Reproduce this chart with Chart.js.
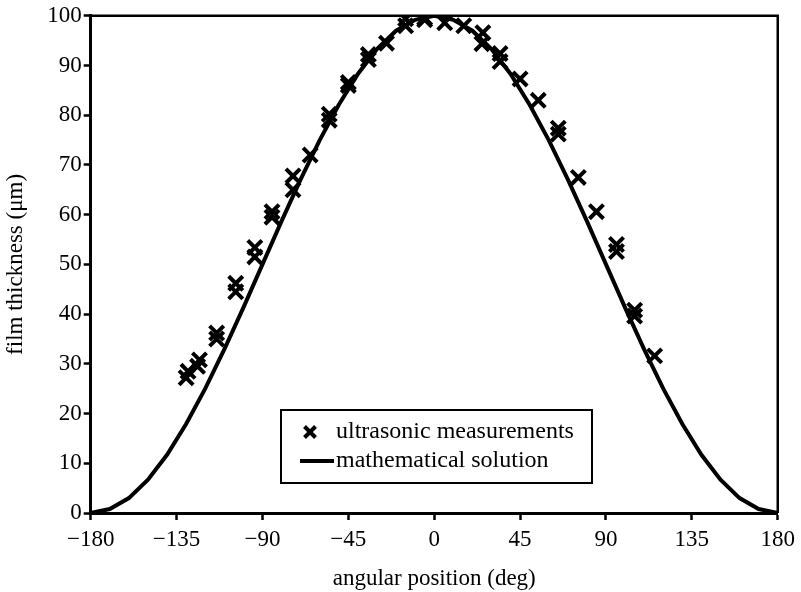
<!DOCTYPE html>
<html>
<head>
<meta charset="utf-8">
<script src="https://cdn.jsdelivr.net/npm/chart.js@4.4.1/dist/chart.umd.min.js"></script>
<style>
  html, body { margin: 0; padding: 0; background: #fff; }
  #wrap { width: 801px; height: 592px; position: relative; }
</style>
</head>
<body>
<div id="wrap"><canvas id="filmChart" width="801" height="592"></canvas></div>
<script>
// Angular positions (deg) and measured film thickness (um)
const measAngle = [
  -130, -129, -124, -123, -114, -114, -104, -104, -94, -94,
  -85, -85, -74, -74, -65, -55, -55, -45, -45, -34.5,
  -34.5, -25, -15, -15, -5, -5, 5.5, 15.5, 25.5, 25,
  34.5, 34.5, 45, 54.5, 65, 65, 75.5, 85, 95.5, 95.5,
  105, 105, 115.5
];
const measThickness = [
  27.2, 28.5, 29.5, 30.8, 35, 36.2, 44.5, 46.2, 51.5, 53.4,
  59.5, 60.6, 65, 67.8, 72, 79, 80.2, 86, 86.6, 91.2,
  92.2, 94.5, 98, 99.4, 99.2, 99.6, 98.6, 98, 96.6, 94.4,
  92.4, 90.8, 87.3, 83, 76.2, 77.4, 67.5, 60.6, 52.6, 54,
  39.6, 40.8, 31.6
];

// Mathematical solution, sampled every 10 deg
const solAngle = [
  -180, -170, -160, -150, -140, -130, -120, -110, -100, -90,
  -80, -70, -60, -50, -40, -30, -20, -10, 0, 10,
  20, 30, 40, 50, 60, 70, 80, 90, 100, 110,
  120, 130, 140, 150, 160, 170, 180
];
const solThickness = [
  0, 0.8, 3, 6.7, 11.7, 17.9, 25, 32.9, 41.3, 50,
  58.7, 67.1, 75, 82.1, 88.3, 93.3, 97, 99.2, 100, 99.2,
  97, 93.3, 88.3, 82.1, 75, 67.1, 58.7, 50, 41.3, 32.9,
  25, 17.9, 11.7, 6.7, 3, 0.8, 0
];

const xTicks = [-180, -135, -90, -45, 0, 45, 90, 135, 180];
const FONT = "'Liberation Serif', 'Times New Roman', serif";

const toPoints = (xs, ys) => xs.map((x, i) => ({ x: x, y: ys[i] }));

// Frame on top/right plus the boxed legend inside the plot
const framePlugin = {
  id: 'frameAndLegend',
  afterDraw(chart) {
    const ctx = chart.ctx;
    const a = chart.chartArea;
    ctx.save();
    ctx.strokeStyle = '#000';
    ctx.lineWidth = 2.5;
    ctx.beginPath();
    ctx.moveTo(a.left, a.top);
    ctx.lineTo(a.right, a.top);
    ctx.lineTo(a.right, a.bottom);
    ctx.stroke();

    // legend box
    const bx = 281, by = 410, bw = 311, bh = 73;
    ctx.fillStyle = '#fff';
    ctx.fillRect(bx, by, bw, bh);
    ctx.lineWidth = 2;
    ctx.strokeRect(bx, by, bw, bh);

    const ds = chart.data.datasets;
    ctx.fillStyle = '#000';
    ctx.font = '24px ' + FONT;
    ctx.textBaseline = 'middle';
    ctx.textAlign = 'left';

    // cross symbol
    const cx = 310, cy = 432;
    ctx.lineWidth = 4;
    ctx.beginPath();
    ctx.moveTo(cx - 5.5, cy - 5.5); ctx.lineTo(cx + 5.5, cy + 5.5);
    ctx.moveTo(cx + 5.5, cy - 5.5); ctx.lineTo(cx - 5.5, cy + 5.5);
    ctx.stroke();
    ctx.fillText(ds[0].label, 336, cy);

    // line symbol
    const ly = 461;
    ctx.lineWidth = 4;
    ctx.beginPath();
    ctx.moveTo(300, ly); ctx.lineTo(334, ly);
    ctx.stroke();
    ctx.fillText(ds[1].label, 336, ly);
    ctx.restore();
  }
};

const ctx = document.getElementById('filmChart').getContext('2d');
new Chart(ctx, {
  type: 'scatter',
  data: {
    datasets: [
      {
        label: 'ultrasonic measurements',
        data: toPoints(measAngle, measThickness),
        pointStyle: 'crossRot',
        pointRadius: 10,
        pointBorderWidth: 4,
        borderColor: '#000',
        backgroundColor: '#000',
        showLine: false,
        order: 1
      },
      {
        label: 'mathematical solution',
        data: toPoints(solAngle, solThickness),
        showLine: true,
        borderColor: '#000',
        borderWidth: 4,
        pointRadius: 0,
        tension: 0,
        order: 2
      }
    ]
  },
  options: {
    responsive: false,
    animation: false,
    devicePixelRatio: 1,
    layout: { padding: { left: 0, top: 14, right: 20.5, bottom: 0 } },
    plugins: {
      legend: { display: false },
      tooltip: { enabled: false }
    },
    scales: {
      x: {
        type: 'linear',
        min: -180,
        max: 180,
        afterBuildTicks: s => { s.ticks = xTicks.map(v => ({ value: v })); },
        afterFit: s => { s.height = 79; },
        ticks: {
          color: '#000',
          font: { family: FONT, size: 23 },
          padding: 6,
          maxRotation: 0,
          callback: v => (v < 0 ? '\u2212' + Math.abs(v) : String(v))
        },
        grid: {
          drawOnChartArea: false,
          tickLength: 7,
          tickWidth: 2.5,
          tickColor: '#000'
        },
        border: { color: '#000', width: 3 },
        title: {
          display: true,
          text: 'angular position (deg)',
          color: '#000',
          font: { family: FONT, size: 23, lineHeight: 0.9 },
          padding: { top: 4, bottom: 3 }
        }
      },
      y: {
        min: 0,
        max: 100,
        afterFit: s => { s.width = 90.7; },
        ticks: {
          stepSize: 10,
          color: '#000',
          font: { family: FONT, size: 23 },
          padding: 2
        },
        grid: {
          drawOnChartArea: false,
          tickLength: 7,
          tickWidth: 2.5,
          tickColor: '#000'
        },
        border: { color: '#000', width: 3 },
        title: {
          display: true,
          text: 'film thickness (\u03bcm)',
          color: '#000',
          font: { family: FONT, size: 23 },
          padding: { top: 2, bottom: 2 }
        }
      }
    }
  },
  plugins: [framePlugin]
});
</script>
</body>
</html>
